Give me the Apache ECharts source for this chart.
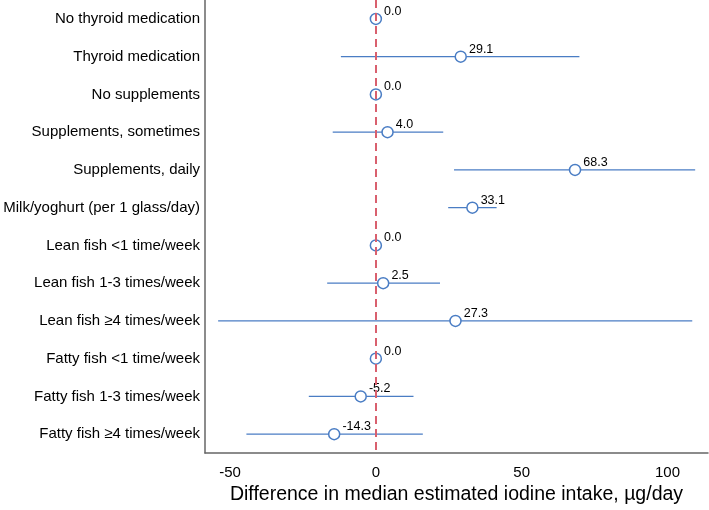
<!DOCTYPE html>
<html>
<head>
<meta charset="utf-8">
<script src="https://cdn.jsdelivr.net/npm/echarts@6/dist/echarts.min.js"></script>
<style>html,body{margin:0;padding:0;background:#fff}#c{width:709px;height:510px}</style>
</head>
<body>
<div id="c"></div>
<script>
const categories = [
  "No thyroid medication","Thyroid medication","No supplements","Supplements, sometimes",
  "Supplements, daily","Milk/yoghurt (per 1 glass/day)","Lean fish <1 time/week",
  "Lean fish 1-3 times/week","Lean fish \u22654 times/week","Fatty fish <1 time/week",
  "Fatty fish 1-3 times/week","Fatty fish \u22654 times/week"
];
const estimates = [0.0, 29.1, 0.0, 4.0, 68.3, 33.1, 0.0, 2.5, 27.3, 0.0, -5.2, -14.3];
const lowerCI = [null, -12.0, null, -14.8, 26.8, 24.8, null, -16.7, -54.1, null, -23.0, -44.4];
const upperCI = [null, 69.8, null, 23.1, 109.5, 41.4, null, 22.0, 108.5, null, 12.9, 16.1];
const xTicks = [-50, 0, 50, 100];
const refLine = 0;

const blue = '#4a7dc4';
const font = '"Liberation Sans", Arial, sans-serif';

const ciData = categories.map((c, i) => [i, lowerCI[i], upperCI[i]]).filter(d => d[1] !== null);
const ptData = categories.map((c, i) => [estimates[i], i]);

const chart = echarts.init(document.getElementById('c'), null, {renderer: 'canvas'});
chart.setOption({
  animation: false,
  grid: {left: 205, right: 1, top: 0, bottom: 57, containLabel: false},
  xAxis: {
    type: 'value', min: -58.6, max: 113.9,
    name: 'Difference in median estimated iodine intake, \u00b5g/day',
    nameLocation: 'middle', nameGap: 26,
    nameTextStyle: {fontSize: 19.5, color: '#000', fontFamily: font},
    axisLine: {show: true, onZero: false, lineStyle: {color: '#666', width: 1.5}},
    axisTick: {show: false},
    splitLine: {show: false},
    axisLabel: {customValues: xTicks, fontSize: 15, color: '#000', fontFamily: font, margin: 12}
  },
  yAxis: {
    type: 'category', data: categories, inverse: true,
    axisLine: {show: true, onZero: false, lineStyle: {color: '#666', width: 1.5}},
    axisTick: {show: false},
    splitLine: {show: false},
    axisLabel: {fontSize: 15, color: '#000', fontFamily: font, margin: 5}
  },
  series: [
    {
      type: 'scatter',
      data: [],
      z: 1,
      markLine: {
        silent: true, symbol: 'none',
        label: {show: false},
        lineStyle: {color: '#d9606e', type: [8, 5], width: 2},
        data: [{xAxis: refLine}]
      }
    },
    {
      type: 'custom',
      data: ciData,
      encode: {x: [1, 2], y: 0},
      renderItem: function (params, api) {
        const i = api.value(0);
        const a = api.coord([api.value(1), i]);
        const b = api.coord([api.value(2), i]);
        return {type: 'line', shape: {x1: a[0], y1: a[1], x2: b[0], y2: b[1]},
          style: {stroke: blue, lineWidth: 1.2}};
      },
      z: 2
    },
    {
      type: 'scatter',
      data: ptData,
      symbol: 'circle',
      symbolSize: 11,
      itemStyle: {color: '#fff', borderColor: blue, borderWidth: 1.5, opacity: 1},
      label: {
        show: true, position: 'right', distance: 2, offset: [0, -7.5],
        fontSize: 12.5, color: '#000', fontFamily: font,
        formatter: p => p.value[0].toFixed(1)
      },
      z: 3
    }
  ]
});
</script>
</body>
</html>
